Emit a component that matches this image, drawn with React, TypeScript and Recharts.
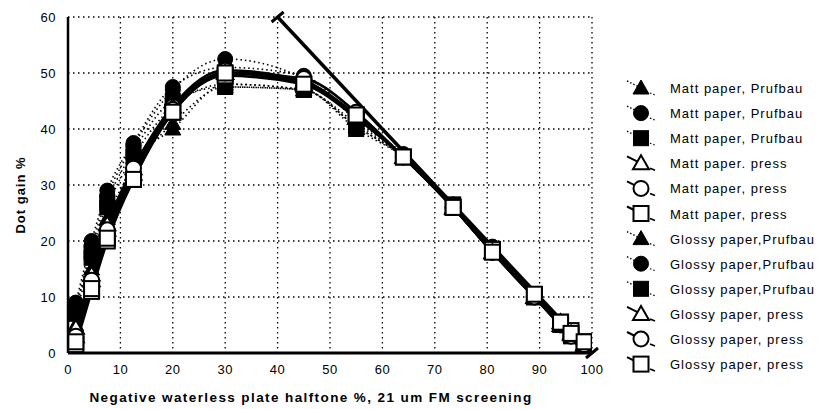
import React from 'react';
import { ComposedChart, Line, Scatter, XAxis, YAxis, CartesianGrid, ReferenceLine, ReferenceDot } from 'recharts';

const xs = [1.5, 4.5, 7.5, 12.5, 20, 30, 45, 55, 64, 73.5, 81, 89, 94, 96, 98.5];

const mattPrufTri = [5, 13, 22, 34, 40, 48, 47, 41, 35, 26, 18, 10, 5, 3.5, 1.5];
const mattPrufCirc = [8, 19, 28, 37, 47, 52.5, 49, 42, 35.5, 26.5, 18.5, 10.5, 5.5, 3.5, 1.5];
const mattPrufSq = [7, 17, 26, 35, 44, 48, 47, 40.5, 35, 26.5, 18.5, 10.5, 5, 3, 1.5];
const mattPressTri = [3, 13, 22, 32, 43, 50, 48, 42, 35, 26, 18, 10, 5.5, 3.5, 1.5];
const mattPressCirc = [2.5, 12, 21, 32, 44, 50.5, 48.5, 42.5, 35, 26, 18, 10, 5, 3, 1.5];
const mattPressSq = [1.5, 11, 20, 31, 43, 49.5, 48, 42.5, 35, 26, 18.5, 10, 5.5, 4, 2];
const glossPrufTri = [4, 15, 24, 33, 41, 47.5, 47, 40.5, 35, 26, 18, 10.5, 5, 3, 1];
const glossPrufCirc = [9, 20, 29, 37.5, 47.5, 51, 49.5, 41.5, 35.5, 26.5, 19, 10.5, 5, 3, 1];
const glossPrufSq = [8, 18, 27, 36, 45, 47.5, 47, 40, 35, 26.5, 18.5, 10.5, 5, 3, 1];
const glossPressTri = [4.5, 14, 23, 33, 44, 50, 48.5, 42, 35, 26, 18, 10, 5, 3.5, 1.5];
const glossPressCirc = [3, 13, 22, 33, 43.5, 50, 49, 43, 35, 26, 18, 10, 5.5, 3.5, 1.5];
const glossPressSq = [2, 11.5, 20.5, 31, 43, 50, 48, 42.5, 35, 26, 18, 10.5, 5.5, 3.5, 2];

const refLineX = [40, 100];
const refLineY = [60, 0];

const xTicks = [0, 10, 20, 30, 40, 50, 60, 70, 80, 90, 100];
const yTicks = [0, 10, 20, 30, 40, 50, 60];
const xMinor = Array.from({ length: 51 }, (_, i) => i * 2);
const yMinor = Array.from({ length: 31 }, (_, i) => i * 2);

type Kind = 'tri' | 'circ' | 'sq';
const seriesDefs: { key: string; name: string; vals: number[]; kind: Kind; filled: boolean; dotted: boolean }[] = [
  { key: 'a', name: 'Matt paper, Prufbau', vals: mattPrufTri, kind: 'tri', filled: true, dotted: true },
  { key: 'b', name: 'Matt paper, Prufbau', vals: mattPrufCirc, kind: 'circ', filled: true, dotted: true },
  { key: 'c', name: 'Matt paper, Prufbau', vals: mattPrufSq, kind: 'sq', filled: true, dotted: true },
  { key: 'g', name: 'Glossy paper,Prufbau', vals: glossPrufTri, kind: 'tri', filled: true, dotted: true },
  { key: 'h', name: 'Glossy paper,Prufbau', vals: glossPrufCirc, kind: 'circ', filled: true, dotted: true },
  { key: 'i', name: 'Glossy paper,Prufbau', vals: glossPrufSq, kind: 'sq', filled: true, dotted: true },
  { key: 'd', name: 'Matt paper. press', vals: mattPressTri, kind: 'tri', filled: false, dotted: false },
  { key: 'e', name: 'Matt paper, press', vals: mattPressCirc, kind: 'circ', filled: false, dotted: false },
  { key: 'f', name: 'Matt paper, press', vals: mattPressSq, kind: 'sq', filled: false, dotted: false },
  { key: 'j', name: 'Glossy paper, press', vals: glossPressTri, kind: 'tri', filled: false, dotted: false },
  { key: 'k', name: 'Glossy paper, press', vals: glossPressCirc, kind: 'circ', filled: false, dotted: false },
  { key: 'l', name: 'Glossy paper, press', vals: glossPressSq, kind: 'sq', filled: false, dotted: false },
];
const legendOrder = ['a', 'b', 'c', 'd', 'e', 'f', 'g', 'h', 'i', 'j', 'k', 'l'];

const data = xs.map((x, i) => {
  const row: any = { x };
  seriesDefs.forEach((s) => (row[s.key] = s.vals[i]));
  return row;
});

const FONT = '"Liberation Sans", Arial, sans-serif';

function Marker({ cx, cy, kind, filled }: { cx: number; cy: number; kind: Kind; filled: boolean }) {
  const fill = filled ? '#000' : '#fff';
  const sw = filled ? 1 : 2;
  if (kind === 'tri') {
    return <polygon points={`${cx},${cy - 8} ${cx - 8},${cy + 6} ${cx + 8},${cy + 6}`} fill={fill} stroke="#000" strokeWidth={sw} />;
  }
  if (kind === 'circ') {
    return <circle cx={cx} cy={cy} r={7.5} fill={fill} stroke="#000" strokeWidth={sw} />;
  }
  return <rect x={cx - 7.5} y={cy - 7.5} width={15} height={15} fill={fill} stroke="#000" strokeWidth={sw} />;
}

function makeShape(kind: Kind, filled: boolean) {
  return (props: any) => {
    if (props.cx == null || props.cy == null) return <g />;
    return <Marker cx={props.cx} cy={props.cy} kind={kind} filled={filled} />;
  };
}

const capShape = (props: any) => {
  const { cx, cy } = props;
  if (cx == null) return <g />;
  return <line x1={cx - 6} y1={cy + 5} x2={cx + 6} y2={cy - 5} stroke="#000" strokeWidth={3} />;
};

export default function App() {
  const legendTop = 88;
  const legendGap = 25.1;
  return (
    <div style={{ position: 'absolute', left: 0, top: 0, width: 829, height: 409, background: '#fff' }}>
      <ComposedChart width={829} height={409} data={data} margin={{ top: 17, right: 237, left: 0, bottom: 16 }}>
        <CartesianGrid stroke="#000" strokeWidth={1.3} strokeDasharray="1.5 3.5" />
        <XAxis
          dataKey="x"
          type="number"
          domain={[0, 100]}
          ticks={xTicks}
          height={40}
          tickLine={false}
          tickSize={0}
          tickMargin={12}
          axisLine={{ stroke: '#000', strokeWidth: 3 }}
          tick={{ fill: '#000', fontSize: 13, fontFamily: FONT, letterSpacing: 0.5 }}
          allowDataOverflow
        />
        <YAxis
          type="number"
          domain={[0, 60]}
          ticks={yTicks}
          width={68}
          tickLine={false}
          tickSize={0}
          tickMargin={12}
          axisLine={{ stroke: '#000', strokeWidth: 2.5 }}
          tick={{ fill: '#000', fontSize: 13, fontFamily: FONT, letterSpacing: 0.5 }}
          allowDataOverflow
        />
        <XAxis xAxisId="mb" type="number" domain={[0, 100]} ticks={xMinor} orientation="bottom" mirror height={0} tick={false} tickSize={3} tickLine={{ stroke: '#000', strokeWidth: 1.2 }} axisLine={false} allowDataOverflow />
        <XAxis xAxisId="mt" type="number" domain={[0, 100]} ticks={xMinor} orientation="top" mirror height={0} tick={false} tickSize={3} tickLine={{ stroke: '#000', strokeWidth: 1.2 }} axisLine={{ stroke: '#000', strokeWidth: 2 }} allowDataOverflow />
        <YAxis yAxisId="ml" type="number" domain={[0, 60]} ticks={yMinor} orientation="left" mirror width={0} tick={false} tickSize={3} tickLine={{ stroke: '#000', strokeWidth: 1.2 }} axisLine={false} allowDataOverflow />
        <YAxis yAxisId="mr" type="number" domain={[0, 60]} ticks={yMinor} orientation="right" mirror width={0} tick={false} tickSize={3} tickLine={{ stroke: '#000', strokeWidth: 1.2 }} axisLine={{ stroke: '#000', strokeWidth: 2 }} allowDataOverflow />

        {seriesDefs.map((s) => (
          <Line
            key={'l' + s.key}
            dataKey={s.key}
            type="monotone"
            stroke="#000"
            strokeWidth={s.dotted ? 1.6 : 2.6}
            strokeDasharray={s.dotted ? '1.5 3' : undefined}
            dot={false}
            activeDot={false}
            isAnimationActive={false}
            legendType="none"
          />
        ))}
        <ReferenceLine
          segment={[
            { x: refLineX[0], y: refLineY[0] },
            { x: refLineX[1], y: refLineY[1] },
          ]}
          stroke="#000"
          strokeWidth={3.5}
          ifOverflow="visible"
        />
        <ReferenceDot x={refLineX[0]} y={refLineY[0]} ifOverflow="visible" shape={capShape} />
        <ReferenceDot x={refLineX[1]} y={refLineY[1]} ifOverflow="visible" shape={capShape} />
        {seriesDefs.map((s) => (
          <Scatter key={'s' + s.key} dataKey={s.key} shape={makeShape(s.kind, s.filled)} isAnimationActive={false} />
        ))}
      </ComposedChart>
      <svg width={829} height={409} style={{ position: 'absolute', left: 0, top: 0, pointerEvents: 'none' }}>
        <text
          x={0}
          y={0}
          transform="translate(25,195) rotate(-90)"
          textAnchor="middle"
          fontFamily={FONT}
          fontSize={13}
          fontWeight="bold"
          fill="#000"
          letterSpacing={1}
        >
          Dot gain %
        </text>
        <text x={311} y={402} textAnchor="middle" fontFamily={FONT} fontSize={13.5} fontWeight="bold" fill="#000" letterSpacing={1.4}>
          Negative waterless plate halftone %, 21 um FM screening
        </text>
        {legendOrder.map((k, i) => {
          const s = seriesDefs.find((d) => d.key === k)!;
          const y = legendTop + i * legendGap;
          return (
            <g key={k}>
              <line x1={627} y1={y - 7} x2={641} y2={y} stroke="#000" strokeWidth={s.dotted ? 1.4 : 2} strokeDasharray={s.dotted ? '1.5 2' : undefined} />
              <line x1={650} y1={y + 5} x2={655} y2={y + 7} stroke="#000" strokeWidth={s.dotted ? 1.2 : 1.6} strokeDasharray={s.dotted ? '1.5 2' : undefined} />
              <Marker cx={641} cy={y} kind={s.kind} filled={s.filled} />
              <text x={670} y={y + 5} fontFamily={FONT} fontSize={13} fill="#000" letterSpacing={1}>
                {s.name}
              </text>
            </g>
          );
        })}
      </svg>
    </div>
  );
}
